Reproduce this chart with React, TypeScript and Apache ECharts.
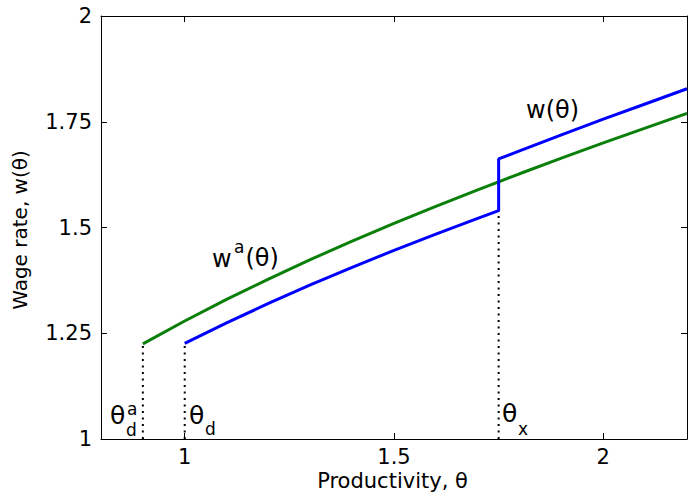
import React, { useEffect, useRef } from "react";
import * as echarts from "echarts";

const thetaGreen = [0.9, 1.0, 1.1, 1.2, 1.3, 1.4, 1.5, 1.6, 1.7, 1.75, 1.8, 1.9, 2.0, 2.1, 2.2];
const wageAutarky = [1.225, 1.279, 1.33, 1.378, 1.424, 1.468, 1.51, 1.55, 1.589, 1.608, 1.627, 1.664, 1.7, 1.735, 1.77];

const thetaBlue = [1.0, 1.1, 1.2, 1.3, 1.4, 1.5, 1.6, 1.7, 1.75, 1.75, 1.8, 1.9, 2.0, 2.1, 2.2];
const wageTrade = [1.226, 1.2745, 1.3204, 1.3642, 1.4059, 1.446, 1.4844, 1.5216, 1.54, 1.662, 1.681, 1.719, 1.756, 1.792, 1.828];

const cutoffTheta = [0.9, 1.0, 1.75];
const cutoffWage = [1.225, 1.226, 1.54];

const xTicks = [1, 1.5, 2];

const FONT = "'DejaVu Sans', sans-serif";

export default function App() {
  const ref = useRef<HTMLDivElement>(null);
  useEffect(() => {
    if (!ref.current) return;
    const chart = echarts.init(ref.current, null, { renderer: "svg" });
    const axisLine = { show: true, onZero: false, lineStyle: { color: "#000", width: 1 } };
    const dotted = cutoffTheta.map((t, i) => ({
      type: "line",
      data: [
        [t, 1],
        [t, cutoffWage[i]],
      ],
      symbol: "none",
      silent: true,
      z: 1,
      lineStyle: { color: "#000", width: 2, type: [2, 4.5] },
    }));
    const txt = (text: string, x: number, y: number, size: number, align = "left", extra: any = {}) => ({
      type: "text",
      x,
      y,
      silent: true,
      style: {
        text,
        fill: "#000",
        font: `${size}px ${FONT}`,
        textAlign: align,
        textVerticalAlign: "middle",
      },
      ...extra,
    });
    chart.setOption({
      animation: false,
      backgroundColor: "#fff",
      grid: { left: 101, right: 2, top: 16, bottom: 56, containLabel: false },
      xAxis: [
        {
          type: "value",
          min: 0.8,
          max: 2.2,
          position: "bottom",
          axisLine,
          splitLine: { show: false },
          axisTick: { show: true, inside: true, length: 6, customValues: xTicks, lineStyle: { color: "#000" } },
          axisLabel: { show: true, customValues: xTicks, margin: 7, color: "#000", fontSize: 21, fontFamily: FONT },
        },
        {
          type: "value",
          min: 0.8,
          max: 2.2,
          position: "top",
          axisLine,
          splitLine: { show: false },
          axisTick: { show: true, inside: true, length: 6, customValues: xTicks, lineStyle: { color: "#000" } },
          axisLabel: { show: false },
        },
      ],
      yAxis: [
        {
          type: "value",
          min: 1,
          max: 2,
          interval: 0.25,
          position: "left",
          axisLine,
          splitLine: { show: false },
          axisTick: { show: true, inside: true, length: 6, lineStyle: { color: "#000" } },
          axisLabel: { show: true, margin: 9, color: "#000", fontSize: 21, fontFamily: FONT },
        },
        {
          type: "value",
          min: 1,
          max: 2,
          interval: 0.25,
          position: "right",
          axisLine,
          splitLine: { show: false },
          axisTick: { show: true, inside: true, length: 6, lineStyle: { color: "#000" } },
          axisLabel: { show: false },
        },
      ],
      series: [
        ...dotted,
        {
          type: "line",
          data: thetaGreen.map((t, i) => [t, wageAutarky[i]]),
          symbol: "none",
          z: 3,
          lineStyle: { color: "#0a7f0a", width: 3 },
        },
        {
          type: "line",
          data: thetaBlue.map((t, i) => [t, wageTrade[i]]),
          symbol: "none",
          z: 4,
          lineStyle: { color: "#0000ff", width: 3 },
        },
      ],
      graphic: [
        txt("Productivity, θ", 392.5, 481, 21, "center"),
        txt("Wage rate, w(θ)", 20, 230, 20, "center", { rotation: Math.PI / 2 }),
        // theta_d^a
        txt("θ", 110, 415, 25),
        txt("a", 127, 409, 17),
        txt("d", 126, 430, 17),
        // theta_d
        txt("θ", 189, 415, 25),
        txt("d", 205, 429, 17),
        // theta_x
        txt("θ", 502, 413, 25),
        txt("x", 518, 429, 17),
        // w^a(theta)
        txt("w", 212, 259, 24),
        txt("a", 234, 247, 17),
        txt("(θ)", 245.5, 257.5, 24),
        // w(theta)
        txt("w(θ)", 526, 110, 24),
      ],
    });
    return () => chart.dispose();
  }, []);
  return <div ref={ref} style={{ position: "absolute", left: 0, top: 0, width: 689, height: 495 }} />;
}
